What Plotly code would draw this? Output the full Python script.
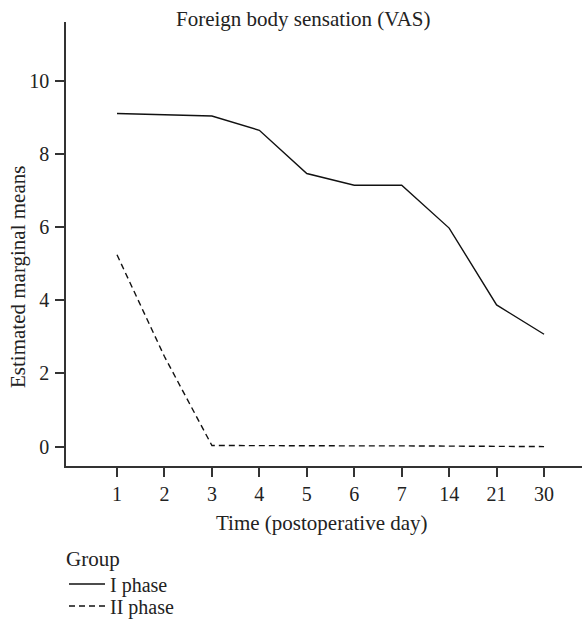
import plotly.graph_objects as go

days = ["1", "2", "3", "4", "5", "6", "7", "14", "21", "30"]
phase_i = [9.10, 9.07, 9.03, 8.64, 7.46, 7.14, 7.14, 5.97, 3.87, 3.07]
phase_ii = [5.24, 2.46, 0.03, 0.02, 0.02, 0.02, 0.02, 0.01, 0.0, 0.0]
y_ticks = [0, 2, 4, 6, 8, 10]

FONT = "Liberation Serif"
FS = 21
W, H = 582, 619
L, R, T, B = 66, 0, 22, 153
pw, ph = W - L - R, H - T - B


def px(xp):
    return (xp - L) / pw


def py(yp):
    return (T + ph - yp) / ph


fig = go.Figure()
fig.add_trace(go.Scatter(x=days, y=phase_i, mode="lines", name="I phase",
                         legend="legend",
                         line=dict(color="#111111", width=1.4)))
fig.add_trace(go.Scatter(x=days, y=phase_ii, mode="lines", name="II phase",
                         legend="legend2",
                         line=dict(color="#111111", width=1.4, dash="6px,4px")))

leg_common = dict(
    xanchor="left", yanchor="middle",
    font=dict(size=FS - 1),
    bgcolor="rgba(0,0,0,0)",
    itemwidth=36,
)

fig.update_layout(
    width=W, height=H,
    margin=dict(l=L, r=R, t=T, b=B, autoexpand=False),
    paper_bgcolor="white", plot_bgcolor="white",
    font=dict(family=FONT, size=FS, color="#222222"),
    showlegend=True,
    legend=dict(x=px(64), y=py(584), **leg_common),
    legend2=dict(x=px(64), y=py(606), **leg_common),
    xaxis=dict(
        type="category",
        range=[-1.075, 9.80],
        showline=True, linecolor="#333333", linewidth=1.5,
        ticks="outside", ticklen=9, tickwidth=1.5, tickcolor="#333333",
        showgrid=False, zeroline=False,
        tickfont=dict(size=FS - 1),
    ),
    yaxis=dict(
        range=[-0.53, 11.6],
        tickvals=y_ticks,
        showline=True, linecolor="#333333", linewidth=1.5,
        ticks="outside", ticklen=9, tickwidth=1.5, tickcolor="#333333",
        showgrid=False, zeroline=False,
        ticklabelstandoff=2,
        tickfont=dict(size=FS - 1),
    ),
    annotations=[
        dict(text="Foreign body sensation (VAS)", xref="paper", yref="paper",
             x=px(303), y=py(19), xanchor="center", yanchor="middle",
             showarrow=False, font=dict(size=FS)),
        dict(text="Time (postoperative day)", xref="paper", yref="paper",
             x=px(322), y=py(523), xanchor="center", yanchor="middle",
             showarrow=False, font=dict(size=FS)),
        dict(text="Estimated marginal means", xref="paper", yref="paper",
             x=px(18), y=py(277), xanchor="center", yanchor="middle",
             textangle=-90, showarrow=False, font=dict(size=FS)),
        dict(text="Group", xref="paper", yref="paper",
             x=px(64), y=py(559), xanchor="left", yanchor="middle",
             showarrow=False, font=dict(size=FS)),
    ],
)

fig.write_html("out.html", config={"displayModeBar": False},
               post_script="document.body.style.margin='0';")
